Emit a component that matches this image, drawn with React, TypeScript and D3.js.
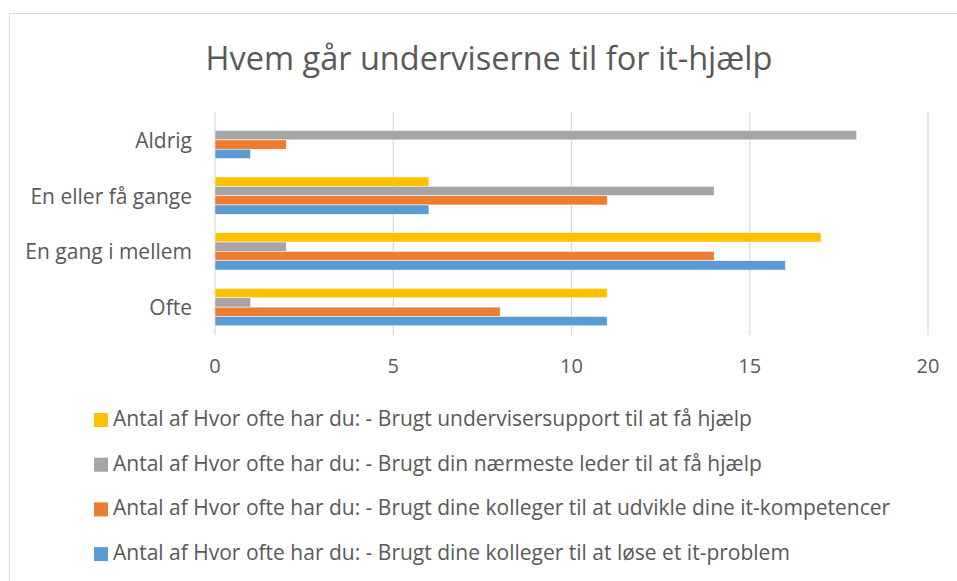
import { useEffect, useRef } from 'react'
import * as d3 from 'd3'

const categories = ['Aldrig', 'En eller få gange', 'En gang i mellem', 'Ofte']
const seriesNames = [
  'Antal af Hvor ofte har du: - Brugt undervisersupport til at få hjælp',
  'Antal af Hvor ofte har du: - Brugt din nærmeste leder til at få hjælp',
  'Antal af Hvor ofte har du: - Brugt dine kolleger til at udvikle dine it-kompetencer',
  'Antal af Hvor ofte har du: - Brugt dine kolleger til at løse et it-problem',
]
const seriesColors = ['#FFC000', '#A5A5A5', '#ED7D31', '#5B9BD5']
// values per series, aligned with categories
const undervisersupport = [0, 6, 17, 11]
const leder = [18, 14, 2, 1]
const kollegerUdvikle = [2, 11, 14, 8]
const kollegerLoese = [1, 6, 16, 11]
const seriesValues = [undervisersupport, leder, kollegerUdvikle, kollegerLoese]
const xTicks = [0, 5, 10, 15, 20]

const FONT = '"Open Sans", "Noto Sans", sans-serif'
const TEXT = '#595959'

export default function App() {
  const ref = useRef<SVGSVGElement | null>(null)

  useEffect(() => {
    const svg = d3.select(ref.current)
    svg.selectAll('*').remove()
    const width = 957
    const height = 581

    svg.append('rect').attr('width', width).attr('height', height).attr('fill', '#fff')
    // chart frame
    svg.append('rect')
      .attr('x', 9.5).attr('y', 13.5)
      .attr('width', width + 20).attr('height', height + 20)
      .attr('fill', 'none').attr('stroke', '#D9D9D9').attr('stroke-width', 1)

    svg.append('text')
      .attr('x', 489).attr('y', 70)
      .attr('text-anchor', 'middle')
      .attr('fill', TEXT)
      .style('font-family', FONT)
      .style('font-size', '32.5px')
      .text('Hvem går underviserne til for it-hjælp')

    const x = d3.scaleLinear().domain([0, 20]).range([215, 928])
    const y = d3.scaleBand<string>().domain(categories).range([112, 335]).paddingInner(0.33).paddingOuter(0.165)
    const inner = d3.scaleBand<number>().domain(d3.range(seriesNames.length)).range([0, y.bandwidth()])

    // gridlines
    svg.append('g').selectAll('line').data(xTicks).enter().append('line')
      .attr('x1', (d) => x(d)).attr('x2', (d) => x(d))
      .attr('y1', 112).attr('y2', 335)
      .attr('stroke', '#D9D9D9').attr('stroke-width', 1.2)

    // tick labels
    svg.append('g').selectAll('text').data(xTicks).enter().append('text')
      .attr('x', (d) => x(d)).attr('y', 373)
      .attr('text-anchor', 'middle')
      .attr('fill', TEXT)
      .style('font-family', FONT)
      .style('font-size', '20px')
      .text((d) => String(d))

    // category labels
    svg.append('g').selectAll('text').data(categories).enter().append('text')
      .attr('x', 192).attr('y', (d) => (y(d) ?? 0) + y.bandwidth() / 2 + 8)
      .attr('text-anchor', 'end')
      .attr('fill', TEXT)
      .style('font-family', FONT)
      .style('font-size', '21px')
      .text((d) => d)

    // bars
    seriesValues.forEach((vals, si) => {
      svg.append('g').selectAll('rect').data(vals).enter().append('rect')
        .attr('x', x(0))
        .attr('y', (_d, i) => (y(categories[i]) ?? 0) + (inner(si) ?? 0))
        .attr('width', (d) => x(d) - x(0))
        .attr('height', inner.bandwidth())
        .attr('fill', seriesColors[si])
        .attr('stroke', '#fff').attr('stroke-width', 0.5)
    })

    // legend
    const legend = svg.append('g')
    seriesNames.forEach((name, i) => {
      const base = 426 + i * 44.7
      legend.append('rect')
        .attr('x', 94).attr('y', base - 13)
        .attr('width', 14).attr('height', 14)
        .attr('fill', seriesColors[i])
      legend.append('text')
        .attr('x', 113).attr('y', base)
        .attr('fill', TEXT)
        .style('font-family', FONT)
        .style('font-size', '21px')
        .text(name)
    })
  }, [])

  return (
    <svg
      ref={ref}
      width={957}
      height={581}
      style={{ position: 'absolute', left: 0, top: 0, display: 'block' }}
    />
  )
}
